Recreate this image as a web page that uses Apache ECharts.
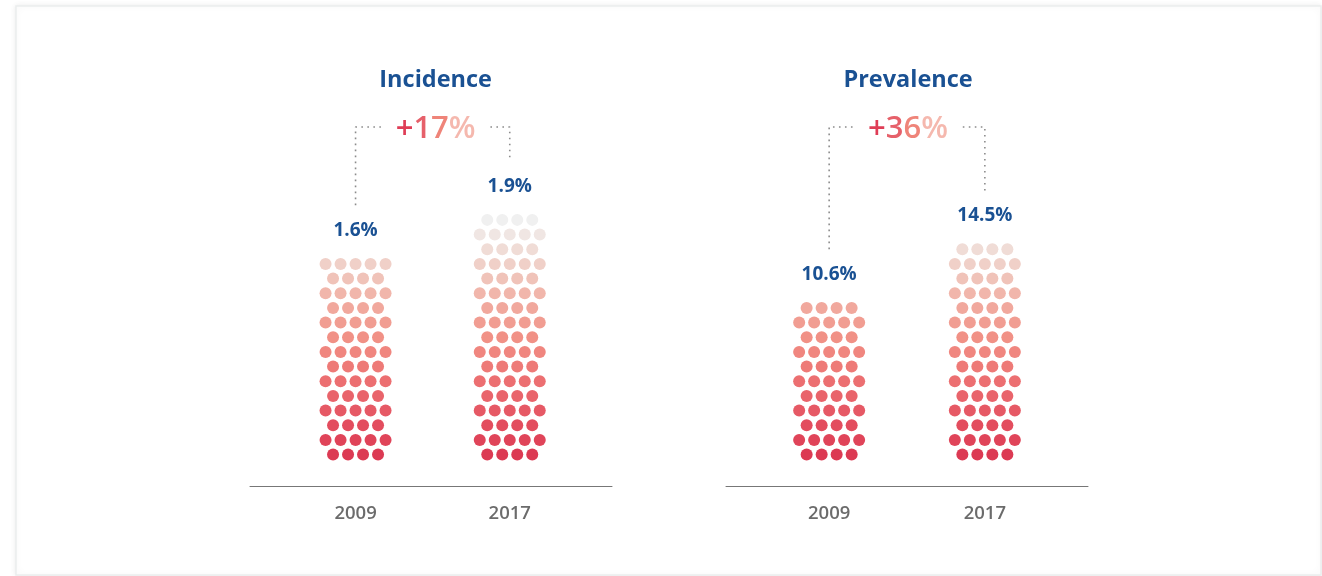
<!DOCTYPE html>
<html><head><meta charset="utf-8">
<script src="https://cdn.jsdelivr.net/npm/echarts@6/dist/echarts.min.js"></script>
<style>html,body{margin:0;padding:0;background:#fff}#c{width:1322px;height:576px}</style>
</head><body><div id="c"></div>
<script>
// ---- data ----
const panels = ['Incidence', 'Prevalence'];
const years = ['2009', '2017'];
const incidenceValues = [1.6, 1.9];
const prevalenceValues = [10.6, 14.5];
const incidenceDots = [63, 76];
const prevalenceDots = [49, 67];
const changeLabels = ['+17%', '+36%'];

// ---- layout (styles / positions) ----
const FONT = 'Open Sans';
const PX_X = 15, PX_Y = 14.67;
const axisY = 486, row0Y = 454.6;
const yMin = -(axisY - row0Y) / PX_Y, yMax = 24;
const gridH = (yMax - yMin) * PX_Y;
const gridLefts = [250, 726], gridW = 362;
const xHalf = gridW / PX_X / 2;
const colCenters = [[-5.03, 5.25], [-5.19, 5.19]];
const textCenters = [0.31, 0.07];
const bracketRow = 22.33, changeRow = 22.15;
const labelOffset = 2.3, bracketDrop = 1.7, textGap = 3.65;

const panelValues = [incidenceValues, prevalenceValues];
const panelDots = [incidenceDots, prevalenceDots];

function dotsFor(count, center) {
  const pts = []; let row = 0; let left = count;
  while (left > 0) {
    const n = row % 2 === 0 ? 4 : 5;
    const k = Math.min(n, left);
    for (let i = 0; i < k; i++) pts.push([center + i - (n - 1) / 2, row]);
    left -= k; row++;
  }
  return { pts, topRow: row - 1 };
}

const grids = [], xAxes = [], yAxes = [], series = [], dotSeriesIdx = [], titles = [];
const changeColors = ['#df3d56', '#e6606a', '#ef8479', '#f5b8ae'];
panels.forEach((name, p) => {
  grids.push({ left: gridLefts[p], width: gridW, top: axisY - gridH, height: gridH });
  xAxes.push({
    type: 'value', gridIndex: p, min: -xHalf, max: xHalf,
    axisLine: { show: true, onZero: false, lineStyle: { color: '#777', width: 1 } },
    axisTick: { show: false }, splitLine: { show: false },
    axisLabel: {
      customValues: colCenters[p], margin: 18,
      formatter: v => (v < 0 ? years[0] : years[1]),
      color: '#6b6b6b', fontFamily: FONT, fontSize: 18.5, fontWeight: 600
    }
  });
  yAxes.push({ type: 'value', gridIndex: p, min: yMin, max: yMax, show: false });
  const tc = textCenters[p];
  titles.push({
    text: name, left: gridLefts[p] + gridW / 2 + tc * PX_X, top: 68, textAlign: 'center', padding: 0,
    textStyle: { color: '#1a5193', fontFamily: FONT, fontSize: 23.5, fontWeight: 'bold' }
  });
  const labelRows = [];
  years.forEach((y, i) => {
    const d = dotsFor(panelDots[p][i], colCenters[p][i]);
    dotSeriesIdx.push(series.length);
    series.push({
      type: 'scatter', xAxisIndex: p, yAxisIndex: p, symbol: 'circle', symbolSize: 12,
      itemStyle: { opacity: 1 },
      data: d.pts, silent: true
    });
    const lr = d.topRow + labelOffset;
    labelRows.push(lr);
    series.push({
      type: 'scatter', xAxisIndex: p, yAxisIndex: p, symbolSize: 0.01, silent: true,
      itemStyle: { color: 'rgba(0,0,0,0)', opacity: 1 },
      data: [[colCenters[p][i], lr, panelValues[p][i]]],
      label: {
        show: true, position: 'inside', formatter: o => o.data[2] + '%',
        color: '#1a5193', fontFamily: FONT, fontSize: 19, fontWeight: 'bold'
      }
    });
  });
  const dotted = { color: '#8c8c8c', width: 1.6, type: [1.6, 4.4], cap: 'butt' };
  series.push({
    type: 'line', xAxisIndex: p, yAxisIndex: p, symbol: 'none', silent: true,
    lineStyle: dotted,
    data: [[colCenters[p][0], labelRows[0] + bracketDrop], [colCenters[p][0], bracketRow], [tc - textGap, bracketRow]]
  });
  series.push({
    type: 'line', xAxisIndex: p, yAxisIndex: p, symbol: 'none', silent: true,
    lineStyle: dotted,
    data: [[tc + textGap, bracketRow], [colCenters[p][1], bracketRow], [colCenters[p][1], labelRows[1] + bracketDrop]]
  });
  const chars = changeLabels[p].split('');
  const rich = {};
  chars.forEach((c, k) => { rich['c' + k] = { color: changeColors[k], fontFamily: FONT, fontSize: 31, fontWeight: 600 }; });
  series.push({
    type: 'scatter', xAxisIndex: p, yAxisIndex: p, symbolSize: 0.01, silent: true,
    itemStyle: { color: 'rgba(0,0,0,0)', opacity: 1 },
    data: [[tc, changeRow]],
    label: {
      show: true, position: 'inside',
      formatter: () => chars.map((c, k) => '{c' + k + '|' + c + '}').join(''),
      rich
    }
  });
});

const chart = echarts.init(document.getElementById('c'));
chart.setOption({
  animation: false,
  backgroundColor: '#ffffff',
  graphic: [{
    type: 'rect', z: -100, silent: true,
    shape: { x: 16, y: 6, width: 1305, height: 569 },
    style: { fill: '#fff', stroke: '#eaeded', lineWidth: 1.5, shadowBlur: 6, shadowColor: 'rgba(0,0,0,0.07)' }
  }],
  title: titles,
  grid: grids, xAxis: xAxes, yAxis: yAxes,
  visualMap: {
    type: 'continuous', show: false, seriesIndex: dotSeriesIdx, dimension: 1, min: 0, max: 16,
    inRange: { color: ['#dc3a53', '#e34d5e', '#e9646b', '#ee7a77', '#f19186', '#f1a89d', '#f0c3b9', '#f0dcd6', '#f0f0f0'] }
  },
  series
});
</script></body></html>
